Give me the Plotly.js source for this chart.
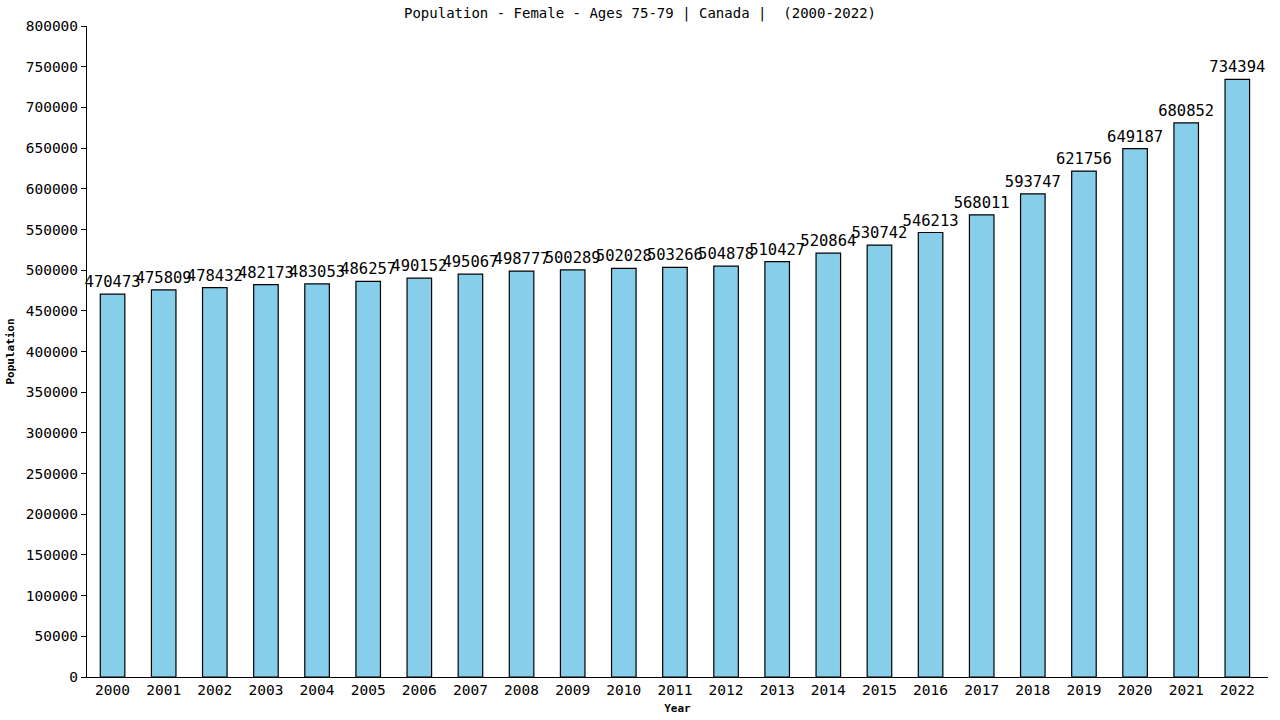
<!DOCTYPE html>
<html>
<head>
<meta charset="utf-8">
<script src="https://cdn.plot.ly/plotly-3.0.1.min.js"></script>
<style>
  html, body { margin: 0; padding: 0; background: #fff; }
  #chart { width: 1280px; height: 720px; }
</style>
</head>
<body>
<div id="chart"></div>
<script>
const years = ['2000', '2001', '2002', '2003', '2004', '2005', '2006', '2007', '2008', '2009', '2010', '2011',
    '2012', '2013', '2014', '2015', '2016', '2017', '2018', '2019', '2020', '2021', '2022'];
const population = [470473, 475809, 478432, 482173, 483053, 486257, 490152, 495067, 498777, 500289, 502028, 503266,
    504878, 510427, 520864, 530742, 546213, 568011, 593747, 621756, 649187, 680852, 734394];
const yTicks = [0, 50000, 100000, 150000, 200000, 250000, 300000, 350000, 400000, 450000, 500000, 550000,
    600000, 650000, 700000, 750000, 800000];

const font = 'DejaVu Sans Mono, monospace';

let trace = {
    x: years,
    y: population,
    type: 'bar',
    width: 0.48,
    marker: { color: '#87ceeb', line: { color: '#000', width: 1.2 } },
    text: population.map(String),
    textposition: 'outside',
    constraintext: 'none',
    textfont: { family: font, size: 15.5, color: '#000' },
    outsidetextfont: { family: font, size: 15.5, color: '#000' },
    cliponaxis: false,
    hoverinfo: 'x+y'
};

let layout = {
    width: 1280,
    height: 720,
    margin: { l: 87, r: 12, t: 26, b: 43 },
    paper_bgcolor: '#fff',
    plot_bgcolor: '#fff',
    showlegend: false,
    title: {
        text: 'Population - Female - Ages 75-79 | Canada |  (2000-2022)',
        font: { family: font, size: 14, color: '#000' },
        x: 0.5, xanchor: 'center', y: 0.982, yanchor: 'middle'
    },
    xaxis: {
        type: 'category',
        range: [-0.5, 22.6],
        showline: true, linecolor: '#000', linewidth: 1,
        ticks: '', showgrid: false,
        tickfont: { family: font, size: 14.5, color: '#000' },
        title: { text: 'Year', font: { family: font, size: 11, color: '#000', weight: 'bold' }, standoff: 6 }
    },
    yaxis: {
        range: [0, 800000],
        tickvals: yTicks,
        ticktext: yTicks.map(String),
        showline: true, linecolor: '#000', linewidth: 1,
        ticks: 'outside', ticklen: 5, tickcolor: '#000',
        showgrid: false, zeroline: false,
        tickfont: { family: font, size: 14.5, color: '#000' },
        title: { text: 'Population', font: { family: font, size: 11, color: '#000', weight: 'bold' }, standoff: 8 }
    }
};

Plotly.newPlot('chart', [trace], layout, { displayModeBar: false, staticPlot: true });
</script>
</body>
</html>
